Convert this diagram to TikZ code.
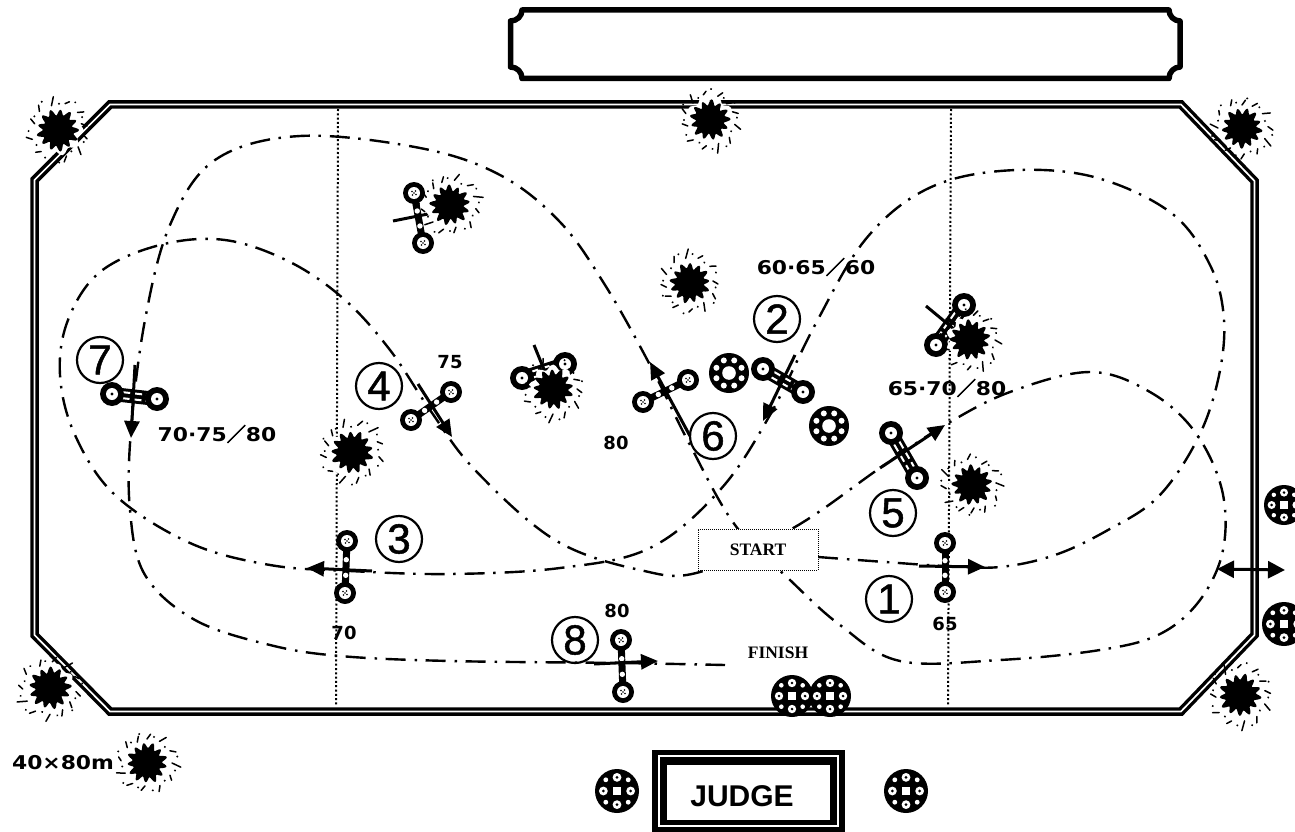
\documentclass[tikz,border=0pt]{standalone}
\usepackage{fontspec}
\setmainfont{Liberation Sans}
\newfontfamily\lab[FakeStretch=1.15]{DejaVu Sans}
\newfontfamily\labn{DejaVu Sans}
\newfontfamily\cjk[FakeBold=2.5]{Noto Sans CJK JP}
\newfontfamily\ser{Liberation Serif}
\newfontfamily\circd[FakeBold=1.2]{Liberation Sans}
\usetikzlibrary{arrows.meta,calc}
\tikzset{
 fenceline/.style={line width=8.5pt,black,line join=miter},
 fencegap/.style={line width=1.7pt,white,line join=miter},
 course/.style={line width=2.4pt,black,dash pattern=on 20pt off 9pt on 2.5pt off 8.5pt},
 arrowline/.style={line width=3pt,black,-{Triangle[length=17pt,width=15pt]}},
 dbl/.style={line width=3pt,black,{Triangle[length=17pt,width=17pt]}-{Triangle[length=17pt,width=17pt]}},
 post/.style={line width=2pt,black,dash pattern=on 2pt off 2.3pt},
 tick/.style={line width=3pt,black},
 numcirc/.style={circle,draw=black,line width=2.2pt,minimum size=46pt,inner sep=0pt,font=\circd\fontsize{42}{42}\selectfont},
 lbl/.style={font=\lab\fontsize{19}{19}\selectfont\bfseries,inner sep=0pt},
 sm/.style={font=\labn\fontsize{18}{18}\selectfont\bfseries,inner sep=0pt},
 title/.style={font=\ser\bfseries\fontsize{17.5}{17.5}\selectfont,inner sep=0pt},
}
% splash of paint
\newcommand{\splash}[4]{% x y radius rotation
 \begin{scope}[shift={(#1,#2)},rotate=#4]
  \fill[white] plot[samples=60,domain=0:360] (\x:{1.22*#3*(0.9+0.1*cos(9*\x))}) -- cycle;
  \fill[black] plot[samples=105,domain=0:360] (\x:{#3*(0.86+0.14*cos(13*\x)+0.04*sin(5*\x))}) -- cycle;
  \foreach \a/\p/\q in {10/1.2/1.45,40/1.25/1.6,72/1.3/1.55,100/1.25/1.7,128/1.3/1.5,160/1.3/1.55,195/1.15/1.4,225/1.25/1.5,255/1.2/1.6,285/1.3/1.45,318/1.25/1.5,345/1.15/1.4}
   \draw[black,line width=1.5pt,line cap=round] (\a:{\p*#3}) -- (\a+7:{\q*#3});
  \foreach \a/\p in {25/1.35,58/1.2,88/1.55,115/1.45,145/1.25,178/1.4,210/1.3,240/1.55,272/1.25,302/1.55,332/1.3,355/1.5}
   \fill[black] (\a:{\p*#3}) circle (1.1pt);
 \end{scope}}
% gravel wheel A
\newcommand{\wheela}[3]{%
 \begin{scope}[shift={(#1,#2)}]
  \fill[black] (0,0) circle (#3);
  \fill[white] (0,0) circle ({0.34*#3});
  \foreach \a in {0,45,...,315}
   \fill[white] (\a+22.5:{0.68*#3}) circle ({0.15*#3});
 \end{scope}}
% flower pot B
\newcommand{\wheelb}[3]{%
 \begin{scope}[shift={(#1,#2)}]
  \fill[black] (0,0) circle (#3);
  \fill[white] ({-0.2*#3},{-0.2*#3}) rectangle ({0.2*#3},{0.2*#3});
  \foreach \a in {0,90,180,270} {
   \fill[white] (\a:{0.62*#3}) circle ({0.2*#3});
   \fill[black] (\a:{0.62*#3}) circle ({0.07*#3});
   \fill[white] (\a+45:{0.72*#3}) circle ({0.11*#3});
  }
 \end{scope}}
% poles
\newcommand{\poleend}[2]{%
 \fill[black] (#1,#2) circle (11pt);
 \fill[white] (#1,#2) circle (6pt);
 \foreach \d/\e in {0/0,-2/-1.5,2/1.5,-1.5/2,1.5/-2}
  \fill[black] ($(#1,#2)+(\d,\e)$) circle (0.8pt);
}
\newcommand{\thinpole}[4]{%
 \draw[black,line width=7pt] (#1,#2) -- (#3,#4);
 \fill[white] ($(#1,#2)!0.36!(#3,#4)$) circle (2.7pt);
 \fill[white] ($(#1,#2)!0.66!(#3,#4)$) circle (2.7pt);
 \poleend{#1}{#2}\poleend{#3}{#4}
}
\newcommand{\thickpole}[4]{%
 \draw[black,line width=14pt] (#1,#2) -- (#3,#4);
 \coordinate (pa) at (#1,#2); \coordinate (pb) at (#3,#4);
 \draw[white,line width=2pt,dash pattern=on 8pt off 4pt] ($(pa)!0.22!(pb)!3pt!90:(pb)$) -- ($(pb)!0.22!(pa)!3pt!-90:(pa)$);
 \draw[white,line width=2pt,dash pattern=on 8pt off 4pt] ($(pa)!0.22!(pb)!3pt!-90:(pb)$) -- ($(pb)!0.22!(pa)!3pt!90:(pa)$);
 \fill[black] (#1,#2) circle (12pt);
 \fill[white] (#1,#2) circle (6pt);
 \fill[black] (#1,#2) circle (1.7pt);
 \fill[black] (#3,#4) circle (12pt);
 \fill[white] (#3,#4) circle (6pt);
 \fill[black] (#3,#4) circle (1.7pt);
}
\begin{document}
\begin{tikzpicture}[x=1pt,y=-1pt]
\clip (0,0) rectangle (1295,832);
\fill[white] (0,0) rectangle (1295,832);

% title box
\draw[black,line width=5.5pt,line join=round]
 (522,10) -- (1169,10)
 .. controls (1169,16) and (1174,21) .. (1180,21) -- (1180,67)
 .. controls (1174,67) and (1169,72) .. (1169,78.5) -- (522,78.5)
 .. controls (522,72) and (517,67) .. (510.5,67) -- (510.5,21)
 .. controls (517,21) and (522,16) .. (522,10) -- cycle;

% fence
\draw[fenceline] (110,104.5) -- (1181,104.5) -- (1254.5,181) -- (1254.5,635) -- (1181,711.5) -- (110,711.5) -- (34.5,635) -- (34.5,180) -- cycle;
\draw[fencegap] (110,104.5) -- (1181,104.5) -- (1254.5,181) -- (1254.5,635) -- (1181,711.5) -- (110,711.5) -- (34.5,635) -- (34.5,180) -- cycle;

% dotted lines
\draw[post] (338,109) -- (336,706);
\draw[post] (951,109) -- (948,706);

% course
\draw[course] plot[smooth,tension=0.6] coordinates {
 (818,557) (885,562) (945,566) (1000,567) (1055,555) (1108,530) (1158,497) (1197,440) (1218,380) (1224,320) (1210,265) (1170,212) (1090,176) (1000,171) (925,190) (865,240) (815,325) (770,415) (720,490) (650,548) (560,568) (450,574) (350,571) (270,565) (190,543) (115,495) (75,435) (60,375) (68,320) (100,272) (160,245) (225,240) (290,262) (345,300) (390,350) (430,410) (475,470) (555,540) (640,570) (700,572) (795,527) (880,468) (945,425) (1010,392) (1090,372) (1150,392) (1195,432) (1222,490) (1223,550) (1200,600) (1160,634) (1100,650) (1000,660) (900,661) (840,625) (790,580) (735,525) (690,445) (650,365) (605,285) (560,222) (500,175) (420,148) (300,136) (215,160) (170,225) (145,320) (131,430) (130,510) (145,575) (195,620) (270,645) (340,656) (450,661) (620,663) (725,665)};

% poles and arrows
\draw[arrowline] (919,566) -- (985,567);
\thinpole{945}{543}{945}{592}
\thickpole{763}{369}{803}{392}
\draw[arrowline] (795,355) -- (763,421);
\thinpole{347}{541}{345}{593}
\draw[arrowline] (372,571) -- (307,568);
\thinpole{451}{392}{411}{420}
\draw[arrowline] (418,384) -- (452,437);
\thickpole{891}{433}{917}{478}
\draw[arrowline] (880,468) -- (945,425);
\thinpole{688}{380}{643}{402}
\draw[arrowline] (690,436) -- (650,362);
\thickpole{112}{394}{157}{399}
\draw[arrowline] (135,365) -- (131,438);
\thinpole{621}{640}{623}{692}
\draw[arrowline] (594,664) -- (658,661);
\draw[dbl] (1217,569) -- (1285,570);

% poles with splash next to them
\thinpole{414}{193}{423}{243}
\draw[tick] (393,221) -- (433,213);
\thickpole{522}{378}{565}{364}
\draw[tick] (534,345) -- (545,372);
\splash{553}{389}{20}{10}
\thickpole{964}{305}{936}{345}
\draw[tick] (926,306) -- (955,330);
\splash{970}{340}{20}{40}

\splash{58}{130}{21}{0}
\splash{710}{120}{20}{30}
\splash{1242}{128}{20}{75}
\splash{450}{205}{20}{120}
\splash{690}{283}{20}{200}
\splash{352}{452}{21}{150}
\splash{972}{485}{20}{260}
\splash{50}{688}{21}{310}
\splash{1240}{695}{21}{20}
\splash{147}{763}{20}{100}

% wheels
\wheela{729}{373}{20}
\wheela{829}{426}{20}
\wheelb{792}{696}{21}
\wheelb{830}{696}{21}
\wheelb{1284}{505}{20}
\wheelb{1284}{624}{22}
\wheelb{617}{791}{22}
\wheelb{906}{791}{22}

% circled numbers
\node[numcirc] (n1) at (889,599) {1};
\node[numcirc] (n2) at (777,319) {2};
\node[numcirc] (n3) at (399,539) {3};
\node[numcirc] (n4) at (379,386) {4};
\node[numcirc] (n5) at (893,513) {5};
\node[numcirc] (n6) at (713,436) {6};
\node[numcirc] (n7) at (100,360) {7};
\node[numcirc] (n8) at (575,640) {8};

% labels
\node[lbl] (l1) at (816,267) {60·65{\cjk ／}60};
\node[lbl] (l2) at (947,388) {65·70{\cjk ／}80};
\node[lbl] (l3) at (217,434) {70·75{\cjk ／}80};
\node[sm] (l4) at (450,362) {75};
\node[sm] (l5) at (616,443) {80};
\node[sm] (l6) at (344,633) {70};
\node[sm] (l7) at (945,624) {65};
\node[sm] (l8) at (617,611) {80};
\node[lbl] (l9) at (63,763) {40×80m};

% START / FINISH
\node[draw=black,densely dotted,line width=1pt,fill=white,minimum width=120pt,minimum height=41pt,title] (start) at (758,549.5) {START};
\node[title] (finish) at (778,653) {FINISH};

% judge
\fill[black] (652,750) rectangle (845,832);
\fill[white] (658,755) rectangle (839,827);
\fill[black] (660,757) rectangle (837,825);
\fill[white] (667,765) rectangle (830,820);
\node[font=\bfseries\fontsize{30}{30}\selectfont,inner sep=0pt] (judge) at (742,796) {JUDGE};
\end{tikzpicture}
\end{document}
